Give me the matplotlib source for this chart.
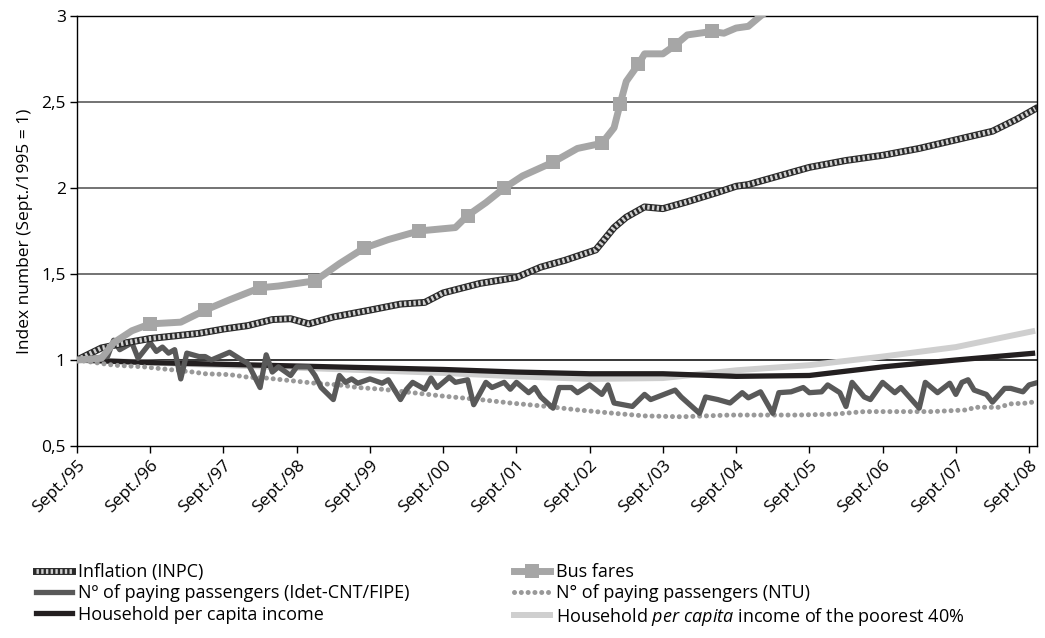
import matplotlib
matplotlib.use("Agg")
import matplotlib.pyplot as plt
from matplotlib.lines import Line2D
from matplotlib import transforms

plt.rcParams['font.family'] = ['Open Sans', 'DejaVu Sans']
plt.rcParams['mathtext.fontset'] = 'custom'
plt.rcParams['mathtext.it'] = 'Open Sans:italic'
plt.rcParams['mathtext.rm'] = 'Open Sans'

# months counted from Sept./1995
tick_labels = ["Sept./95", "Sept./96", "Sept./97", "Sept./98", "Sept./99", "Sept./00", "Sept./01",
               "Sept./02", "Sept./03", "Sept./04", "Sept./05", "Sept./06", "Sept./07", "Sept./08"]

infl_m = [0, 4, 8, 12, 16, 20, 24, 28, 32, 35, 38, 42, 48, 53, 57, 60, 66, 72, 76, 80, 85, 88, 90,
          93, 96, 100, 105, 108, 110, 115, 120, 126, 132, 138, 144, 150, 154, 157]
infl_v = [1.00, 1.07, 1.10, 1.125, 1.14, 1.155, 1.18, 1.20, 1.235, 1.24, 1.21, 1.25, 1.29, 1.325, 1.335,
          1.39, 1.445, 1.48, 1.54, 1.58, 1.64, 1.77, 1.83, 1.89, 1.88, 1.92, 1.975, 2.01, 2.02, 2.07,
          2.12, 2.16, 2.19, 2.23, 2.28, 2.33, 2.40, 2.46]

bus_m = [0, 4, 6, 9, 12, 17, 21, 25, 30, 33, 39, 43, 47, 51, 56, 62, 64, 67, 70, 73, 78, 82, 86, 88,
         89, 90, 92, 93, 96, 98, 100, 104, 106, 108, 110, 112, 114]
bus_v = [1.00, 1.01, 1.10, 1.17, 1.21, 1.22, 1.29, 1.35, 1.42, 1.43, 1.46, 1.56, 1.65, 1.70, 1.75, 1.77,
         1.84, 1.915, 2.00, 2.07, 2.15, 2.23, 2.26, 2.35, 2.49, 2.62, 2.72, 2.78, 2.78, 2.83, 2.89, 2.91,
         2.90, 2.93, 2.94, 3.00, 3.05]
bus_marked = [12, 21, 30, 39, 47, 56, 64, 70, 78, 86, 89, 92, 98, 104]

idet_m = [0, 5, 6, 7, 9, 10, 12, 13, 14, 15, 16, 17, 18, 20, 21, 22, 24, 25, 27, 28, 30, 31, 32, 33,
          35, 36, 38, 39, 40, 42, 43, 44, 45, 46, 48, 50, 51, 53, 54, 55, 57, 58, 59, 61, 62, 64, 65,
          67, 68, 70, 71, 72, 74, 75, 76, 78, 79, 81, 82, 84, 86, 87, 88, 91, 93, 94, 98, 99, 102,
          103, 105, 107, 109, 110, 112, 114, 115, 117, 119, 120, 122, 123, 125, 126, 127, 129, 130,
          132, 134, 135, 138, 139, 141, 143, 144, 145, 146, 147, 149, 150, 152, 153, 155, 156, 157]
idet_v = [1.00, 1.02, 1.115, 1.06, 1.10, 1.01, 1.10, 1.05, 1.075, 1.04, 1.06, 0.89, 1.04, 1.02, 1.02,
          1.00, 1.03, 1.045, 1.00, 0.98, 0.84, 1.03, 0.93, 0.96, 0.91, 0.96, 0.96, 0.91, 0.84, 0.77,
          0.91, 0.87, 0.89, 0.865, 0.89, 0.865, 0.885, 0.77, 0.83, 0.87, 0.83, 0.895, 0.84, 0.90, 0.87,
          0.885, 0.74, 0.87, 0.84, 0.87, 0.83, 0.87, 0.81, 0.84, 0.785, 0.72, 0.84, 0.84, 0.81, 0.855,
          0.80, 0.855, 0.75, 0.73, 0.80, 0.77, 0.825, 0.785, 0.69, 0.785, 0.77, 0.75, 0.81, 0.78, 0.815,
          0.69, 0.81, 0.815, 0.84, 0.81, 0.815, 0.855, 0.81, 0.73, 0.87, 0.785, 0.77, 0.87, 0.81, 0.84,
          0.72, 0.87, 0.81, 0.865, 0.80, 0.87, 0.885, 0.825, 0.80, 0.755, 0.835, 0.835, 0.815, 0.855,
          0.865]

ntu_m = [0, 6, 11, 15, 19, 21, 25, 28, 31, 35, 39, 43, 46, 50, 55, 60, 66, 71, 77, 82, 88, 93, 99,
         107, 118, 124, 129, 140, 146, 147, 151, 153, 156, 157]
ntu_v = [1.00, 0.97, 0.96, 0.945, 0.93, 0.92, 0.915, 0.90, 0.895, 0.88, 0.865, 0.855, 0.84, 0.83,
         0.81, 0.79, 0.77, 0.75, 0.73, 0.71, 0.69, 0.675, 0.67, 0.68, 0.68, 0.685, 0.70, 0.70, 0.71,
         0.725, 0.725, 0.745, 0.75, 0.76]

inc_m = [0, 12, 24, 36, 48, 60, 72, 84, 96, 108, 120, 132, 144, 157]
inc_v = [1.00, 0.985, 0.975, 0.965, 0.955, 0.945, 0.93, 0.92, 0.92, 0.905, 0.91, 0.96, 1.00, 1.04]
poor_v = [1.00, 0.985, 0.97, 0.955, 0.94, 0.925, 0.905, 0.89, 0.895, 0.94, 0.97, 1.02, 1.075, 1.17]

fig = plt.figure(figsize=(10.45, 6.38), dpi=100)
ax = fig.add_axes([77 / 1045, 1 - 446 / 638, 960 / 1045, 430 / 638])

for y in [1.5, 2, 2.5, 3]:
    ax.axhline(y, color='#4d4d4d', lw=1.1, zorder=1)
ax.axhline(1, color='black', lw=1.1, zorder=1)

infl_dash = (0, (0.5, 0.5))
ax.plot(inc_m, poor_v, color='#cfcfcf', lw=4.3, zorder=2, solid_capstyle='butt')
ax.plot(inc_m, inc_v, color='#231f20', lw=3.8, zorder=3, solid_capstyle='butt')
ax.plot(ntu_m, ntu_v, color='#999999', lw=3.6, linestyle=(0, (0.01, 1.35)),
        dash_capstyle='round', zorder=4)
ax.plot(idet_m, idet_v, color='#595959', lw=3.8, zorder=5)
ax.plot(infl_m, infl_v, color='#2a2a2a', lw=5, zorder=6)
ax.plot(infl_m, infl_v, color='#cfcfcf', lw=3.4, linestyle=infl_dash, zorder=7)
bus_idx = [bus_m.index(m) for m in bus_marked]
ax.plot(bus_m, bus_v, color='#a6a6a6', lw=5, zorder=8, marker='s', markersize=10,
        markevery=bus_idx, markeredgewidth=0)

ax.set_xlim(0, 157.3)
ax.set_ylim(0.5, 3)
ax.set_yticks([0.5, 1, 1.5, 2, 2.5, 3])
ax.set_yticklabels(["0,5", "1", "1,5", "2", "2,5", "3"], fontsize=12.5)
ax.set_xticks(range(0, 157, 12))
ax.set_xticklabels(tick_labels, fontsize=12.5, rotation=45, ha='right', va='top',
                   rotation_mode='anchor')
shift = transforms.ScaledTranslation(10 / 100, 0, fig.dpi_scale_trans)
for lab in ax.get_xticklabels():
    lab.set_transform(lab.get_transform() + shift)
ax.tick_params(axis='both', direction='out', length=5, width=1, color='black', pad=3)
for s in ax.spines.values():
    s.set_color('black')
    s.set_linewidth(1)
ax.set_ylabel("Index number (Sept./1995 = 1)", fontsize=12.5, labelpad=6)

# legend proxies
h_infl = (Line2D([], [], color='#2a2a2a', lw=5),
          Line2D([], [], color='#cfcfcf', lw=3.4, linestyle=infl_dash))
h_bus = Line2D([], [], color='#a6a6a6', lw=5, marker='s', markersize=10, markeredgewidth=0)
h_idet = Line2D([], [], color='#595959', lw=3.8)
h_ntu = Line2D([], [], color='#999999', lw=3.6, linestyle=(0, (0.01, 1.35)), dash_capstyle='round')
h_inc = Line2D([], [], color='#231f20', lw=3.8)
h_poor = Line2D([], [], color='#cfcfcf', lw=4.3)

handles = [h_infl, h_idet, h_inc, h_bus, h_ntu, h_poor]
labels = ["Inflation (INPC)", "Nº of paying passengers (Idet-CNT/FIPE)", "Household per capita income",
          "Bus fares", "N° of paying passengers (NTU)",
          r"Household $\mathit{per\ capita}$ income of the poorest 40%"]
fig.legend(handles, labels, ncol=2, loc='upper left', bbox_to_anchor=(20 / 1045, 1 - 547 / 638),
           frameon=False, fontsize=13, handlelength=2.0, columnspacing=5.8,
           labelspacing=0.18, handletextpad=0.3)

fig.savefig("out.png", dpi=100)
